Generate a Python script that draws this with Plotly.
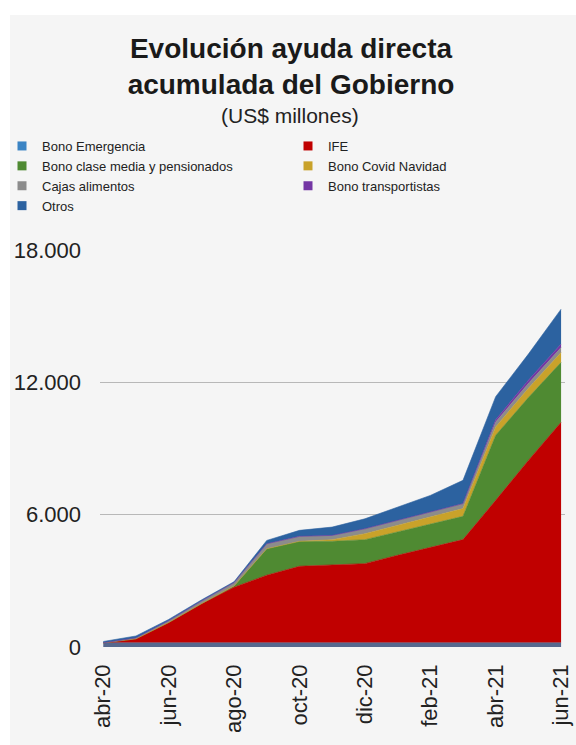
import plotly.graph_objects as go

meses = ["abr-20", "may-20", "jun-20", "jul-20", "ago-20", "sep-20", "oct-20", "nov-20",
         "dic-20", "ene-21", "feb-21", "mar-21", "abr-21", "may-21", "jun-21"]

bono_emergencia = [190, 190, 190, 190, 190, 190, 190, 190, 190, 190, 190, 190, 190, 190, 190]
ife = [0, 180, 920, 1770, 2520, 3065, 3470, 3515, 3590, 3970, 4315, 4680, 6460, 8270, 10000]
bono_clase_media = [0, 0, 0, 0, 60, 1200, 1130, 1090, 1085, 1055, 1055, 1055, 2950, 2850, 2715]
bono_navidad = [0, 0, 0, 0, 0, 0, 0, 70, 270, 300, 330, 350, 380, 420, 450]
cajas_alimentos = [0, 40, 80, 120, 150, 227, 226, 195, 226, 226, 226, 226, 220, 220, 220]
bono_transportistas = [0, 0, 0, 0, 0, 0, 0, 0, 0, 0, 0, 0, 100, 150, 160]
otros = [60, 90, 60, 50, 40, 150, 272, 377, 451, 601, 755, 1056, 1050, 1180, 1584]

x_tick_labels = ["abr-20", "jun-20", "ago-20", "oct-20", "dic-20", "feb-21", "abr-21", "jun-21"]
y_tick_values = [0, 6000, 12000, 18000]
y_tick_labels = ["0", "6.000", "12.000", "18.000"]

# (name, values, area colour, legend swatch colour, legend column)
series = [
    ("Bono Emergencia", bono_emergencia, "#56688e", "#3b84c4", "legend"),
    ("IFE", ife, "#c00000", "#c00000", "legend2"),
    ("Bono clase media y pensionados", bono_clase_media, "#4f8a32", "#4f8a32", "legend"),
    ("Bono Covid Navidad", bono_navidad, "#c9a22a", "#c9a22a", "legend2"),
    ("Cajas alimentos", cajas_alimentos, "#8c8c8c", "#8c8c8c", "legend"),
    ("Bono transportistas", bono_transportistas, "#7436a4", "#7436a4", "legend2"),
    ("Otros", otros, "#2c62a0", "#2c62a0", "legend"),
]

x_idx = list(range(len(meses)))
fig = go.Figure()

for name, vals, color, swatch, leg in series:
    fig.add_trace(go.Scatter(
        x=x_idx, y=vals, name=name, stackgroup="one", mode="lines",
        line=dict(width=0.6, color=color), fillcolor=color,
        showlegend=False, hoverinfo="skip",
    ))

for name, vals, color, swatch, leg in series:
    fig.add_trace(go.Scatter(
        x=[None], y=[None], name=name, mode="markers",
        marker=dict(symbol="square", size=9, color=swatch, line=dict(width=0)),
        legend=leg, showlegend=True,
    ))

W, H = 576, 745
L, R, T, B = 100, 11, 250, 98
pw, ph = W - L - R, H - T - B

def px_x(p):
    return (p - L) / pw

def px_y(p):
    return (H - B - p) / ph

fig.update_layout(
    width=W, height=H,
    margin=dict(l=L, r=R, t=T, b=B, pad=0, autoexpand=False),
    paper_bgcolor="#ffffff",
    plot_bgcolor="rgba(0,0,0,0)",
    font=dict(family="Liberation Sans, Arial, sans-serif", color="#222222"),
    title=dict(
        text="<b>Evolución ayuda directa<br>acumulada del Gobierno</b>",
        font=dict(size=28, color="#1a1a1a"),
        x=291 / W, xref="container", xanchor="center",
        y=1 - 58 / H, yref="container", yanchor="top",
    ),
    annotations=[dict(
        text="(US$ millones)", showarrow=False,
        xref="paper", yref="paper", x=px_x(290), y=px_y(115),
        xanchor="center", yanchor="middle",
        font=dict(size=21, color="#222222"),
    )],
    shapes=[dict(
        type="rect", xref="paper", yref="paper", layer="below",
        x0=px_x(10), x1=px_x(576), y0=px_y(745), y1=px_y(15),
        fillcolor="#f5f5f5", line=dict(width=0),
    )],
    legend=dict(
        x=px_x(2), y=px_y(131), xanchor="left", yanchor="top",
        bgcolor="rgba(0,0,0,0)", font=dict(size=13, color="#222222"),
        orientation="v", itemwidth=30, tracegroupgap=0, traceorder="normal",
    ),
    legend2=dict(
        x=px_x(288), y=px_y(131), xanchor="left", yanchor="top",
        bgcolor="rgba(0,0,0,0)", font=dict(size=13, color="#222222"),
        orientation="v", itemwidth=30, tracegroupgap=0, traceorder="normal",
    ),
    xaxis=dict(
        range=[-0.1, 14.12], tickmode="array",
        tickvals=[0, 2, 4, 6, 8, 10, 12, 14], ticktext=x_tick_labels,
        tickangle=-90, showgrid=False, zeroline=False, showline=False,
        ticks="", ticklabelstandoff=12,
        tickfont=dict(size=22, color="#222222"),
    ),
    yaxis=dict(
        range=[0, 18000], tickmode="array",
        tickvals=y_tick_values, ticktext=y_tick_labels,
        showgrid=True, gridcolor="#b8b8b8", gridwidth=1,
        zeroline=False, showline=False, ticks="", ticklabelstandoff=18,
        tickfont=dict(size=22, color="#222222"),
    ),
)

fig.write_html(
    "out.html",
    config={"displayModeBar": False},
    post_script="document.body.style.margin='0';document.body.style.overflow='hidden';",
)
